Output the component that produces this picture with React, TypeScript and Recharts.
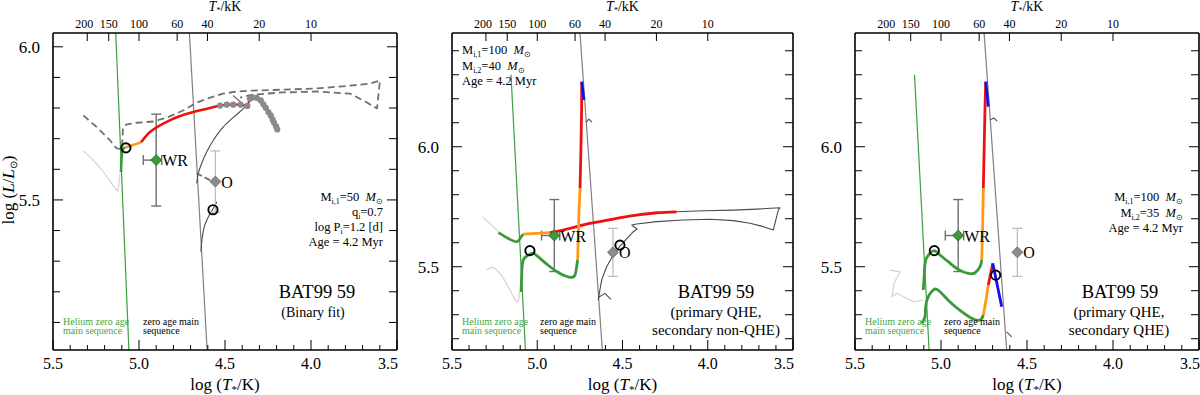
import React from 'react';
import { ComposedChart, Line, Scatter, XAxis, YAxis, ErrorBar } from 'recharts';

const FONT = '"Liberation Serif", "Times New Roman", serif';

// ---------- axis data ----------
const TOP_KK = [200, 150, 100, 60, 40, 20, 10];
const X_LABELS = [5.5, 5.0, 4.5, 4.0, 3.5];
const Y_LABELS = [5.5, 6.0];
const X_TICKS = [3.5, 3.6, 3.7, 3.8, 3.9, 4.0, 4.1, 4.2, 4.3, 4.4, 4.5, 4.6, 4.7, 4.8, 4.9, 5.0, 5.1, 5.2, 5.3, 5.4, 5.5];
const P1_YTICKS = [5.1, 5.2, 5.3, 5.4, 5.5, 5.6, 5.7, 5.8, 5.9, 6.0];
const P23_YTICKS = [5.2, 5.3, 5.4, 5.5, 5.6, 5.7, 5.8, 5.9, 6.0, 6.1, 6.2, 6.3, 6.4];
const X_DOMAIN: [number, number] = [3.5, 5.5];
const P1_YDOMAIN: [number, number] = [5.01, 6.045];
const P23_YDOMAIN: [number, number] = [5.153, 6.474];

// ---------- reference sequences ----------
const HE_ZAMS = [[5.154, 6.30], [5.058, 5.0]];
const ZAMS = [[4.752, 6.5], [4.603, 5.0]];

// ---------- observed stars ----------
const WR_STAR = { x: 4.90, y: 5.63, ex: [0.032, 0.075], ey: [0.15, 0.15] };
const O_STAR = { x: 4.556, y: 5.56, ey: [0.1, 0.1] };

// ---------- panel 1 (binary fit) ----------
const P1_LIGHT = [[5.324, 5.660], [5.266, 5.630], [5.208, 5.592], [5.159, 5.554], [5.130, 5.532], [5.120, 5.538], [5.110, 5.587]];
const P1_GREEN = [[5.105, 5.591], [5.102, 5.630], [5.096, 5.662], [5.081, 5.671]];
const P1_ORANGE = [[5.081, 5.671], [5.035, 5.679], [4.988, 5.688]];
const P1_RED = [[4.988, 5.688], [4.936, 5.722], [4.859, 5.749], [4.781, 5.770], [4.684, 5.787], [4.587, 5.800], [4.529, 5.808]];
const P1_DOTS = [[4.529, 5.808], [4.490, 5.811], [4.452, 5.811], [4.409, 5.811], [4.370, 5.807], [4.355, 5.830], [4.339, 5.835], [4.316, 5.833], [4.292, 5.825], [4.277, 5.812], [4.263, 5.801], [4.248, 5.787], [4.234, 5.776], [4.223, 5.762], [4.215, 5.752], [4.203, 5.740], [4.196, 5.730]];
const P1_BLUE = [[4.226, 5.765], [4.215, 5.752]];
const P1_DASHED = [[5.324, 5.776], [5.246, 5.738], [5.169, 5.695], [5.130, 5.668], [5.099, 5.666], [5.093, 5.737], [5.070, 5.747], [5.012, 5.752], [4.919, 5.756], [4.837, 5.769], [4.744, 5.792], [4.663, 5.818], [4.587, 5.834], [4.512, 5.847], [4.430, 5.854], [4.337, 5.857], [4.163, 5.860], [3.965, 5.864], [3.773, 5.873], [3.657, 5.880], [3.599, 5.890], [3.616, 5.799], [3.645, 5.808], [3.674, 5.818], [3.773, 5.847], [3.965, 5.854], [4.163, 5.851], [4.337, 5.844], [4.413, 5.834]];
const P1_SEC_LOW = [[4.640, 5.331], [4.634, 5.370], [4.622, 5.409], [4.605, 5.435], [4.587, 5.455], [4.570, 5.471], [4.547, 5.494]];
const P1_SEC_UP = [[4.665, 5.554], [4.655, 5.587], [4.636, 5.619], [4.606, 5.657], [4.568, 5.695], [4.519, 5.733], [4.471, 5.760], [4.423, 5.783], [4.384, 5.803]];
const P1_SEC_LINK = [[4.453, 5.841], [4.407, 5.818]];
const P1_DASH_LINK = [[4.665, 5.587], [4.568, 5.559]];
const P1_CIRCLES = [[5.076, 5.670], [4.570, 5.468]];

// ---------- panel 2 (primary QHE, secondary non-QHE) ----------
const P2_LIGHT_A = [[5.322, 5.708], [5.277, 5.681], [5.228, 5.646]];
const P2_LIGHT_B = [[5.301, 5.486], [5.248, 5.493], [5.179, 5.428], [5.121, 5.354], [5.105, 5.395]];
const P2_GREEN_A = [[5.228, 5.642], [5.170, 5.618], [5.121, 5.604], [5.101, 5.618], [5.082, 5.636]];
const P2_ORANGE_A = [[5.082, 5.636], [4.925, 5.642]];
const P2_RED_A = [[4.925, 5.642], [4.847, 5.653], [4.730, 5.674], [4.632, 5.688], [4.534, 5.702], [4.417, 5.715], [4.299, 5.725], [4.182, 5.729]];
const P2_GRAY_A = [[4.182, 5.729], [4.026, 5.733], [3.850, 5.736], [3.713, 5.740], [3.576, 5.746], [3.586, 5.736], [3.616, 5.653], [3.674, 5.667], [3.752, 5.681], [3.850, 5.692], [3.987, 5.698], [4.143, 5.695], [4.299, 5.688], [4.417, 5.678], [4.446, 5.674], [4.415, 5.657], [4.438, 5.645], [4.446, 5.639], [4.515, 5.586], [4.554, 5.549], [4.593, 5.500], [4.622, 5.445], [4.636, 5.389], [4.642, 5.361]];
const P2_HOOK_LOW = [[4.642, 5.372], [4.603, 5.389], [4.568, 5.364]];
const P2_HOOK_HIGH = [[4.714, 6.103], [4.697, 6.115], [4.679, 6.103]];
const P2_GREEN_B = [[5.095, 5.395], [5.091, 5.472], [5.082, 5.528], [5.052, 5.549], [5.023, 5.556], [4.984, 5.535], [4.925, 5.500], [4.867, 5.472], [4.808, 5.456], [4.779, 5.465], [4.769, 5.500], [4.763, 5.528]];
const P2_ORANGE_B = [[4.763, 5.528], [4.761, 5.590], [4.759, 5.639], [4.755, 5.736], [4.749, 5.827]];
const P2_RED_B = [[4.749, 5.827], [4.744, 5.986], [4.740, 6.150], [4.739, 6.271]];
const P2_BLUE_B = [[4.739, 6.271], [4.726, 6.195]];
const P2_CIRCLES = [[5.043, 5.567], [4.515, 5.590]];

// ---------- panel 3 (primary QHE, secondary QHE) ----------
const P3_LIGHT = [[5.297, 5.486], [5.238, 5.479], [5.273, 5.432], [5.285, 5.374], [5.256, 5.390], [5.215, 5.374], [5.157, 5.353], [5.105, 5.361]];
const P3_GREEN_A = [[5.103, 5.403], [5.097, 5.472], [5.089, 5.528], [5.064, 5.556], [5.039, 5.567], [5.006, 5.549], [4.958, 5.521], [4.900, 5.489], [4.841, 5.472], [4.802, 5.475], [4.773, 5.500], [4.763, 5.528]];
const P3_ORANGE_A = [[4.763, 5.528], [4.758, 5.667], [4.754, 5.827]];
const P3_RED_A = [[4.754, 5.827], [4.748, 6.028], [4.744, 6.167], [4.740, 6.271]];
const P3_BLUE_A = [[4.740, 6.271], [4.725, 6.167]];
const P3_GREEN_B = [[5.112, 5.264], [5.093, 5.292], [5.089, 5.333], [5.074, 5.375], [5.045, 5.403], [5.025, 5.406], [4.996, 5.389], [4.938, 5.347], [4.880, 5.313], [4.822, 5.285], [4.773, 5.278], [4.754, 5.299]];
const P3_ORANGE_B = [[4.754, 5.299], [4.738, 5.361], [4.725, 5.424]];
const P3_RED_B = [[4.725, 5.424], [4.699, 5.514]];
const P3_BLUE_B = [[4.699, 5.514], [4.647, 5.333]];
const P3_HOOK_HIGH = [[4.715, 6.111], [4.692, 6.120], [4.674, 6.107]];
const P3_HOOK_LOW = [[4.618, 5.229], [4.589, 5.208]];
const P3_CIRCLES = [[5.039, 5.567], [4.682, 5.465]];

// ---------- colours ----------
const C_GREEN = '#3a9a3a';
const C_HEZAMS = '#3f9f3f';
const C_ZAMS = '#808080';
const C_RED = '#ee1111';
const C_ORANGE = '#ff9914';
const C_BLUE = '#1111ee';
const C_DASH = '#707070';
const C_LIGHT = '#d0d0d0';
const C_DARK = '#4a4a4a';

const pts = (a: number[][]) => a.map(([x, y]) => ({ x, y }));
const near = (list: number[], v: number) => list.some((m) => Math.abs(m - v) < 1e-6);

function ln(key: string, arr: number[][], color: string, w: number, dash?: string, type: any = 'linear') {
  return (
    <Line
      key={key}
      data={pts(arr)}
      dataKey="y"
      xAxisId="b"
      yAxisId="l"
      type={type}
      stroke={color}
      strokeWidth={w}
      strokeDasharray={dash}
      strokeLinejoin="round"
      dot={false}
      activeDot={false}
      legendType="none"
      isAnimationActive={false}
    />
  );
}

const circleShape = (p: any) => <circle cx={p.cx} cy={p.cy} r={4.6} fill="none" stroke="#000" strokeWidth={1.9} />;
const dotShape = (p: any) => <circle cx={p.cx} cy={p.cy} r={3.1} fill="#8a8a8a" />;
const diamondShape = (fill: string, stroke: string, label: string) => (p: any) => {
  const { cx, cy } = p;
  const r = 5.5;
  return (
    <g>
      <polygon points={`${cx},${cy - r} ${cx + r},${cy} ${cx},${cy + r} ${cx - r},${cy}`} fill={fill} stroke={stroke} strokeWidth={0.8} />
      <text x={cx + 6} y={cy + 6} fontFamily={FONT} fontSize={16} fill="#000">{label}</text>
    </g>
  );
};

function circles(key: string, arr: number[][]) {
  return <Scatter key={key} data={pts(arr)} xAxisId="b" yAxisId="l" shape={circleShape} isAnimationActive={false} legendType="none" />;
}

function stars(keyBase: string) {
  return [
    <Scatter key={keyBase + 'o'} data={[O_STAR]} xAxisId="b" yAxisId="l" shape={diamondShape('#8c8c8c', '#666', 'O')} isAnimationActive={false} legendType="none">
      <ErrorBar dataKey="ey" direction="y" width={5} stroke="#bdbdbd" strokeWidth={1.3} />
    </Scatter>,
    <Scatter key={keyBase + 'wr'} data={[WR_STAR]} xAxisId="b" yAxisId="l" shape={diamondShape('#3c9a3c', '#1f5f1f', 'WR')} isAnimationActive={false} legendType="none">
      <ErrorBar dataKey="ey" direction="y" width={5} stroke="#6f6f6f" strokeWidth={1.4} />
      <ErrorBar dataKey="ex" direction="x" width={5} stroke="#6f6f6f" strokeWidth={1.4} />
    </Scatter>,
  ];
}

// ---------- tick renderers ----------
const BottomTick = (p: any) => {
  const { x, y, payload } = p;
  const v = payload.value;
  const major = near(X_LABELS, v);
  const isEnd = Math.abs(v - 3.5) < 1e-6;
  return (
    <g>
      <line x1={x} x2={x} y1={y} y2={y - (major ? 10 : 5)} stroke="#000" strokeWidth={1} />
      {major && (
        <text x={isEnd ? x + 1 : x} y={y + 19} textAnchor={isEnd ? 'end' : 'middle'} fontFamily={FONT} fontSize={16} fill="#000">
          {v.toFixed(1)}
        </text>
      )}
    </g>
  );
};

const TopTick = (p: any) => {
  const { x, y, payload } = p;
  const kk = Math.round(Math.pow(10, payload.value) / 1000);
  return (
    <g>
      <line x1={x} x2={x} y1={y} y2={y + 8} stroke="#000" strokeWidth={1} />
      <text x={kk === 200 ? x - 3 : x} y={y - 5} textAnchor="middle" fontFamily={FONT} fontSize={12} fill="#000">{kk}</text>
    </g>
  );
};

const LeftTick = (p: any) => {
  const { x, y, payload } = p;
  const v = payload.value;
  const major = near(Y_LABELS, v);
  return (
    <g>
      <line x1={x} x2={x + (major ? 10 : 7)} y1={y} y2={y} stroke="#000" strokeWidth={1} />
      {major && (
        <text x={x - 13} y={y + 6} textAnchor="end" fontFamily={FONT} fontSize={17} fill="#000">{v.toFixed(1)}</text>
      )}
    </g>
  );
};

const RightTick = (p: any) => {
  const { x, y, payload } = p;
  const major = near(Y_LABELS, payload.value);
  return <line x1={x} x2={x - (major ? 10 : 8)} y1={y} y2={y} stroke="#000" strokeWidth={1} />;
};

const AXIS_LINE = { stroke: '#000', strokeWidth: 1.6 };

function Panel(props: { yAxisW: number; rightM: number; yDomain: [number, number]; yTicks: number[]; children: React.ReactNode }) {
  const { yAxisW, rightM, yDomain, yTicks, children } = props;
  return (
    <ComposedChart width={400} height={395} margin={{ top: 0, right: rightM, bottom: 0, left: 0 }}>
      <XAxis xAxisId="b" dataKey="x" type="number" domain={X_DOMAIN} reversed allowDataOverflow ticks={X_TICKS} interval={0}
        tick={BottomTick} tickLine={false} tickSize={0} tickMargin={0} axisLine={AXIS_LINE} height={45} />
      <XAxis xAxisId="t" orientation="top" dataKey="x" type="number" domain={X_DOMAIN} reversed allowDataOverflow
        ticks={TOP_KK.map((k) => Math.log10(k * 1000))} interval={0}
        tick={TopTick} tickLine={false} tickSize={0} tickMargin={0} axisLine={AXIS_LINE} height={33} />
      <YAxis yAxisId="l" dataKey="y" type="number" domain={yDomain} allowDataOverflow ticks={yTicks} interval={0}
        tick={LeftTick} tickLine={false} tickSize={0} tickMargin={0} axisLine={AXIS_LINE} width={yAxisW} />
      <YAxis yAxisId="r" orientation="right" dataKey="y" type="number" domain={yDomain} allowDataOverflow ticks={yTicks} interval={0}
        tick={RightTick} tickLine={false} tickSize={0} tickMargin={0} axisLine={AXIS_LINE} width={1} />
      {children}
    </ComposedChart>
  );
}

const Sub = ({ children }: { children: React.ReactNode }) => <tspan fontSize="0.62em" dy={3}>{children}</tspan>;

function MassLine(props: { x: number; y: number; anchor: 'start' | 'end'; idx: string; val: string }) {
  const { x, y, anchor, idx, val } = props;
  return (
    <text x={x} y={y} textAnchor={anchor} fontFamily={FONT} fontSize={12.5} fill="#000">
      M<tspan fontSize={8} dy={3}>i,{idx}</tspan>
      <tspan dy={-3}>={val}{'\u00a0\u00a0'}</tspan>
      <tspan fontStyle="italic">M</tspan>
      <tspan fontSize={8} dy={3}>⊙</tspan>
    </text>
  );
}

function Overlay() {
  const centers = [225, 622.5, 1027];
  return (
    <svg width={1200} height={395} style={{ position: 'absolute', left: 0, top: 0, pointerEvents: 'none' }}>
      {centers.map((c, i) => (
        <g key={i}>
          <text x={c} y={11} textAnchor="middle" fontFamily={FONT} fontSize={14} fill="#000">
            <tspan fontStyle="italic">T</tspan><tspan fontSize={8} dy={2}>*</tspan><tspan dy={-2}>/kK</tspan>
          </text>
          <text x={c} y={390} textAnchor="middle" fontFamily={FONT} fontSize={17} fill="#000">
            log (<tspan fontStyle="italic">T</tspan><tspan fontSize={11} dy={3}>*</tspan><tspan dy={-3}>/K)</tspan>
          </text>
        </g>
      ))}
      <text transform="rotate(-90)" x={-190} y={14} textAnchor="middle" fontFamily={FONT} fontSize={17} fill="#000">
        log (<tspan fontStyle="italic">L</tspan>/<tspan fontStyle="italic">L</tspan><tspan fontSize={10} dy={3}>⊙</tspan><tspan dy={-3}>)</tspan>
      </text>

      {/* sequence labels */}
      {[63, 462, 865].map((x, i) => (
        <g key={'he' + i} fontFamily={FONT} fontSize={10} fill="#44a844">
          <text x={x} y={325}>Helium zero age</text>
          <text x={x} y={334}>main sequence</text>
        </g>
      ))}
      {[143, 540, 944].map((x, i) => (
        <g key={'zs' + i} fontFamily={FONT} fontSize={10} fill="#000">
          <text x={x} y={325}>zero age main</text>
          <text x={x} y={334}>sequence</text>
        </g>
      ))}

      {/* panel 1 annotations */}
      <MassLine x={383} y={201} anchor="end" idx="1" val="50" />
      <text x={383} y={216} textAnchor="end" fontFamily={FONT} fontSize={12.5}>q<Sub>i</Sub><tspan dy={-3}>=0.7</tspan></text>
      <text x={383} y={231} textAnchor="end" fontFamily={FONT} fontSize={12.5}>log P<Sub>i</Sub><tspan dy={-3}>=1.2 [d]</tspan></text>
      <text x={383} y={246} textAnchor="end" fontFamily={FONT} fontSize={12.5}>Age = 4.2 Myr</text>
      <text x={317} y={298} textAnchor="middle" fontFamily={FONT} fontSize={18.5}>BAT99 59</text>
      <text x={313} y={317} textAnchor="middle" fontFamily={FONT} fontSize={14}>(Binary fit)</text>

      {/* panel 2 annotations */}
      <MassLine x={462} y={54} anchor="start" idx="1" val="100" />
      <MassLine x={462} y={70} anchor="start" idx="2" val="40" />
      <text x={462} y={85} fontFamily={FONT} fontSize={12.5}>Age = 4.2 Myr</text>
      <text x={716} y={298} textAnchor="middle" fontFamily={FONT} fontSize={18.5}>BAT99 59</text>
      <text x={716} y={317} textAnchor="middle" fontFamily={FONT} fontSize={15}>(primary QHE,</text>
      <text x={716} y={335} textAnchor="middle" fontFamily={FONT} fontSize={15}>secondary non-QHE)</text>

      {/* panel 3 annotations */}
      <MassLine x={1183} y={201} anchor="end" idx="1" val="100" />
      <MassLine x={1183} y={217} anchor="end" idx="2" val="35" />
      <text x={1183} y={232} textAnchor="end" fontFamily={FONT} fontSize={12.5}>Age = 4.2 Myr</text>
      <text x={1120} y={298} textAnchor="middle" fontFamily={FONT} fontSize={18.5}>BAT99 59</text>
      <text x={1119} y={317} textAnchor="middle" fontFamily={FONT} fontSize={15}>(primary QHE,</text>
      <text x={1119} y={335} textAnchor="middle" fontFamily={FONT} fontSize={15}>secondary QHE)</text>
    </svg>
  );
}

export default function App() {
  return (
    <div style={{ position: 'absolute', left: 0, top: 0, width: 1200, height: 395, background: '#fff', overflow: 'hidden' }}>
      <div style={{ position: 'absolute', left: 0, top: 0 }}>
        <Panel yAxisW={53} rightM={2} yDomain={P1_YDOMAIN} yTicks={P1_YTICKS}>
          {ln('hez', HE_ZAMS, C_HEZAMS, 1.2)}
          {ln('zams', ZAMS, C_ZAMS, 1.2)}
          {ln('light', P1_LIGHT, C_LIGHT, 1.1, undefined, 'natural')}
          {ln('dash', P1_DASHED, C_DASH, 1.8, '7 4')}
          {ln('dlink', P1_DASH_LINK, C_DASH, 1.8, '6 3')}
          {ln('seclow', P1_SEC_LOW, C_DARK, 1.1, undefined, 'natural')}
          {ln('secup', P1_SEC_UP, C_DARK, 1.1, undefined, 'natural')}
          {ln('seclink', P1_SEC_LINK, C_DASH, 1.3)}
          {stars('p1')}
          {ln('green', P1_GREEN, C_GREEN, 2.6, undefined, 'natural')}
          {ln('orange', P1_ORANGE, C_ORANGE, 2.6, undefined, 'natural')}
          {ln('red', P1_RED, C_RED, 2.6, undefined, 'natural')}
          {ln('red2', P1_DOTS, C_RED, 2.2)}
          {ln('blue', P1_BLUE, C_BLUE, 2.2)}
          <Scatter key="dots" data={pts(P1_DOTS)} xAxisId="b" yAxisId="l" shape={dotShape} isAnimationActive={false} legendType="none" />
          {circles('circ', P1_CIRCLES)}
        </Panel>
      </div>
      <div style={{ position: 'absolute', left: 400, top: 0 }}>
        <Panel yAxisW={52} rightM={6} yDomain={P23_YDOMAIN} yTicks={P23_YTICKS}>
          {ln('hez', HE_ZAMS, C_HEZAMS, 1.2)}
          {ln('zams', ZAMS, C_ZAMS, 1.2)}
          {ln('lightA', P2_LIGHT_A, C_LIGHT, 1.1)}
          {ln('lightB', P2_LIGHT_B, C_LIGHT, 1.1, undefined, 'natural')}
          {ln('grayA', P2_GRAY_A, C_DARK, 1.1)}
          {ln('hookL', P2_HOOK_LOW, C_DARK, 1.1)}
          {ln('hookH', P2_HOOK_HIGH, C_DARK, 1.1)}
          {stars('p2')}
          {ln('greenA', P2_GREEN_A, C_GREEN, 2.8, undefined, 'natural')}
          {ln('orangeA', P2_ORANGE_A, C_ORANGE, 2.8)}
          {ln('redA', P2_RED_A, C_RED, 2.8, undefined, 'natural')}
          {ln('greenB', P2_GREEN_B, C_GREEN, 2.8, undefined, 'natural')}
          {ln('orangeB', P2_ORANGE_B, C_ORANGE, 2.8)}
          {ln('redB', P2_RED_B, C_RED, 2.8)}
          {ln('blueB', P2_BLUE_B, C_BLUE, 2.8)}
          {circles('circ', P2_CIRCLES)}
        </Panel>
      </div>
      <div style={{ position: 'absolute', left: 800, top: 0 }}>
        <Panel yAxisW={55} rightM={0} yDomain={P23_YDOMAIN} yTicks={P23_YTICKS}>
          {ln('hez', HE_ZAMS, C_HEZAMS, 1.2)}
          {ln('zams', ZAMS, C_ZAMS, 1.2)}
          {ln('light', P3_LIGHT, C_LIGHT, 1.1)}
          {ln('hookH', P3_HOOK_HIGH, C_DARK, 1.1)}
          {ln('hookL', P3_HOOK_LOW, C_DARK, 1.1)}
          {stars('p3')}
          {ln('greenA', P3_GREEN_A, C_GREEN, 2.8, undefined, 'natural')}
          {ln('orangeA', P3_ORANGE_A, C_ORANGE, 2.8)}
          {ln('redA', P3_RED_A, C_RED, 2.8)}
          {ln('blueA', P3_BLUE_A, C_BLUE, 2.8)}
          {ln('greenB', P3_GREEN_B, C_GREEN, 2.8, undefined, 'natural')}
          {ln('orangeB', P3_ORANGE_B, C_ORANGE, 2.8)}
          {ln('redB', P3_RED_B, C_RED, 2.8)}
          {ln('blueB', P3_BLUE_B, C_BLUE, 2.8)}
          {circles('circ', P3_CIRCLES)}
        </Panel>
      </div>
      <Overlay />
    </div>
  );
}
